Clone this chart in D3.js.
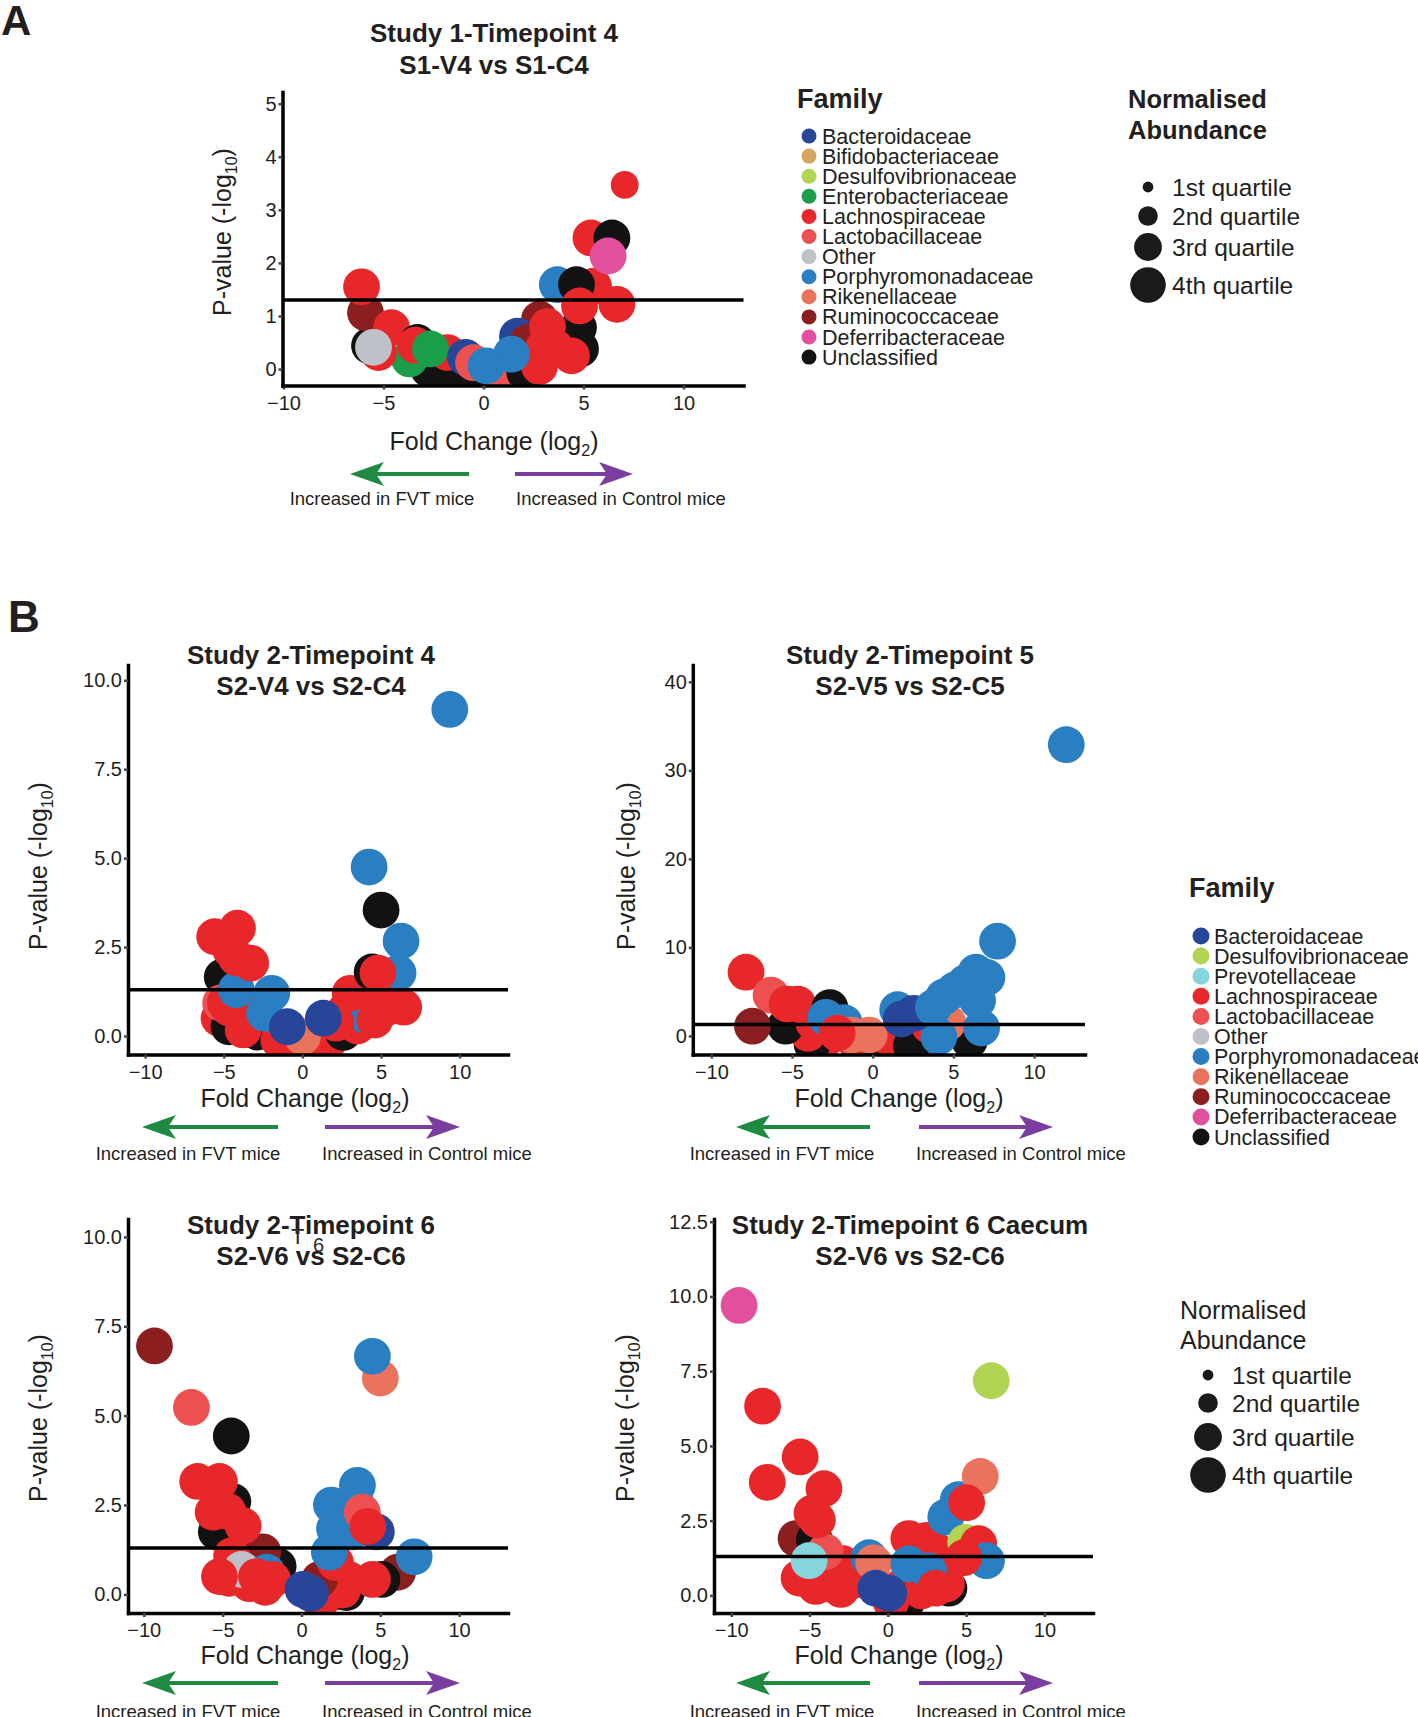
<!DOCTYPE html>
<html>
<head>
<meta charset="utf-8">
<script src="https://cdn.jsdelivr.net/npm/d3@7"></script>
<style>
  body { margin: 0; background: #fff; }
  svg { display: block; font-family: "Liberation Sans", Arial, sans-serif; }
</style>
</head>
<body>
<div id="fig"></div>
<script>
// families: code, name, colour (parallel arrays)
const familyCodes = ["Bac", "Bif", "Des", "Ent", "Lac", "Lct", "Oth", "Por", "Rik", "Rum", "Def", "Pre", "Unc"];
const familyNames = ["Bacteroidaceae", "Bifidobacteriaceae", "Desulfovibrionaceae", "Enterobacteriaceae",
  "Lachnospiraceae", "Lactobacillaceae", "Other", "Porphyromonadaceae", "Rikenellaceae",
  "Ruminococcaceae", "Deferribacteraceae", "Prevotellaceae", "Unclassified"];
const familyColors = ["#27469a", "#d7a55e", "#b2d453", "#1a9e4a", "#e8272a", "#ed5050", "#bec1c8",
  "#2a7fc2", "#ea735e", "#8b1f1f", "#e2509d", "#86d4dc", "#121212"];

const legendAFamilies = ["Bac", "Bif", "Des", "Ent", "Lac", "Lct", "Oth", "Por", "Rik", "Rum", "Def", "Unc"];
const legendBFamilies = ["Bac", "Des", "Pre", "Lac", "Lct", "Oth", "Por", "Rik", "Rum", "Def", "Unc"];
const quartileLabels = ["1st quartile", "2nd quartile", "3rd quartile", "4th quartile"];

const xTicks = [-10, -5, 0, 5, 10];
const pCutoff = 1.3; // -log10(0.05)

// Study 1 - Timepoint 4
const s1t4Fc = [3.9, 2.5, -0.5, -2.75, -1.8, -3.7, -5.7, -5.25, -5.9, -6.1, -4.6, -3.3, -3.4, -5.5, -1.8, -2.65, -0.9, -0.5, 0.7,
  2.06, 2.8, 1.7, 2.2, 4.85, 4.75, 3.0, 3.2, 3.6, 2.8, 4.4, 1.4, 0.13, 3.69, 5.5, 4.65, 4.8, 6.67, 5.37, 6.42, 6.23, 7.06];
const s1t4P = [0.55, 0.25, -0.05, 0.0, -0.06, 0.19, 0.44, 0.31, 1.06, 1.55, 0.78, 0.5, 0.45, 0.41, 0.31, 0.38, 0.22, 0.12, -0.05,
  -0.06, 0.94, 0.62, 0.5, 0.38, 0.78, 0.4, 0.8, 0.4, 0.05, 0.25, 0.28, 0.06, 1.59, 1.56, 1.59, 1.19, 1.22, 2.47, 2.47, 2.13, 3.47];
const s1t4Fam = ["Lac", "Lac", "Unc", "Unc", "Unc", "Ent", "Unc", "Lac", "Rum", "Lac", "Lac", "Unc", "Lac", "Oth", "Lac", "Ent", "Bac", "Lct", "Lct",
  "Unc", "Rum", "Bac", "Rum", "Unc", "Unc", "Lac", "Lac", "Lac", "Lac", "Lac", "Por", "Por", "Por", "Lac", "Unc", "Lac", "Lac", "Lac", "Unc", "Def", "Lac"];
const s1t4Q = [4, 4, 4, 4, 4, 4, 4, 4, 4, 4, 4, 4, 4, 4, 4, 4, 4, 4, 4,
  4, 4, 4, 4, 4, 4, 4, 4, 4, 4, 4, 4, 4, 4, 4, 4, 4, 4, 4, 4, 4, 3];
const s1t4YTicks = [0, 1, 2, 3, 4, 5];

// Study 2 - Timepoint 4
const s2t4Fc = [3.5, 5.4, 4.2, 2.7, -5.3, -4.2, 1.6, -0.95,
  -2.86, -1.95, -1.5, -4.67, -3.77, 0.77, 2.6, 3.49, -5.1, -5.2, -4.9, -4.67, -3.31, -4.2, -1.95, -2.4, -5.58, -4.56,
  -4.13, -4.2, -3.29, 3.95, 2.13, 3.04, 4.6, 4.85, 6.44, 6.08, 4.43, 4.8, 6.27, 5.0, 4.24, 9.37, 0.0, -0.96, 1.33];
const s2t4P = [1.0, 0.8, 1.2, 0.7, 0.5, 0.9, -0.2, -0.3,
  0.11, 0.18, -0.12, 0.26, 0.17, -0.12, 0.1, 0.28, 1.66, 0.93, 0.93, 0.79, 0.69, 1.3, 1.2, 0.64, 2.79, 2.42,
  3.03, 2.2, 2.05, 0.6, 0.36, 1.2, 0.45, 1.09, 0.81, 1.77, 1.8, 1.77, 2.67, 3.54, 4.75, 9.18, -0.02, 0.26, 0.5];
const s2t4Fam = ["Lac", "Lac", "Lac", "Lac", "Lac", "Lac", "Lac", "Lac",
  "Unc", "Unc", "Lac", "Unc", "Lac", "Lac", "Unc", "Lac", "Unc", "Lct", "Lac", "Lac", "Lac", "Por", "Por", "Por", "Lac", "Lac",
  "Lac", "Lac", "Lac", "Por", "Lac", "Lac", "Lac", "Lac", "Lac", "Por", "Unc", "Lac", "Por", "Unc", "Por", "Por", "Rik", "Bac", "Bac"];
const s2t4Q = s2t4Fc.map(() => 4);
const s2t4YTicks = [0, 2.5, 5, 7.5, 10];

// Study 2 - Timepoint 5
const s2t5Fc = [-3.0, -1.0, 0.5, 1.2, 3.0,
  -3.76, -4.0, -5.4, 2.4, 6.0, -7.85, -6.3, -5.3, -4.65, -3.65, -2.65, -2.9, -1.77, -7.45, -1.33, -0.22, -2.2,
  3.5, 4.65, 4.1, 1.55, 1.77, 2.55, 3.76, 4.4, 5.1, 5.75, 6.4, 7.08, 6.5, 6.75, 7.74, 12.0];
const s2t5P = [-0.5, -0.8, -1.2, -0.5, -0.8,
  -0.9, 0.3, 1.1, -1.1, -0.5, 7.2, 4.6, 3.6, 3.6, 1.5, 3.2, 2.1, 1.5, 1.1, 0.1, 0.1, 0.3,
  1.2, 1.5, -0.1, 2.96, 1.9, 2.55, 3.2, 4.4, 5.2, 6.0, 7.2, 6.6, 4.0, 0.9, 10.7, 32.9];
const s2t5Fam = ["Lac", "Lac", "Unc", "Lac", "Lac",
  "Unc", "Lac", "Unc", "Unc", "Unc", "Lac", "Lct", "Lac", "Lac", "Lac", "Unc", "Por", "Por", "Rum", "Rik", "Rik", "Lac",
  "Lac", "Rik", "Por", "Por", "Bac", "Bac", "Por", "Por", "Por", "Por", "Por", "Por", "Por", "Por", "Por", "Por"];
const s2t5Q = s2t5Fc.map(() => 4);
const s2t5YTicks = [0, 10, 20, 30, 40];

// Study 2 - Timepoint 6
const s2t6Fc = [-4.6, -3.3, -2.3, 3.0, 2.0,
  2.85, 1.2, 2.6, -1.48, -2.45, -5.4, -4.35, -6.58, -5.2, -5.6, -4.66, -3.7, -4.43, -3.8, -5.2, -2.2, -2.85, -1.83,
  1.14, 2.16, 6.1, 5.1, 4.5, 1.77, 1.9, 3.55, 3.5, 2.1, 3.2, 4.75, 3.86, 4.2, 7.15, -9.32, -6.98, -4.45, 5.0, 4.5, 0.1, 0.57];
const s2t6P = [0.45, 0.3, 0.2, 0.42, 0.05,
  0.05, -0.2, 0.12, 0.79, 1.19, 1.75, 2.6, 3.16, 3.16, 2.3, 2.32, 1.92, 1.08, 0.7, 0.5, 0.62, 0.5, 0.42,
  0.42, 0.89, 0.62, 0.42, 0.42, 1.18, 2.5, 3.05, 2.5, 1.84, 1.75, 1.75, 2.3, 1.9, 1.05, 6.95, 5.23, 4.43, 6.05, 6.66, 0.14, 0.03];
const s2t6Fam = ["Lac", "Lac", "Lac", "Lac", "Lac",
  "Unc", "Lac", "Lac", "Unc", "Rum", "Unc", "Unc", "Lac", "Lac", "Lac", "Lac", "Lac", "Lac", "Oth", "Lac", "Por", "Lac", "Lac",
  "Rum", "Lac", "Rum", "Unc", "Lac", "Por", "Por", "Por", "Por", "Por", "Por", "Bac", "Lct", "Lac", "Por", "Rum", "Lct", "Unc", "Rik", "Por", "Bac", "Bac"];
const s2t6Q = s2t6Fc.map(() => 4);
const s2t6YTicks = [0, 2.5, 5, 7.5, 10];

// Study 2 - Timepoint 6 Caecum
const s2t6cFc = [-2.2, -3.0, 0.9, -4.6, 3.3,
  1.23, 0.2, 3.9, 3.74, 2.14, -5.67, -3.57, -2.87, -5.86, -4.69, -4.0, -5.03, -1.2, -0.9, 1.34, 2.5, 3.05, 1.34, 2.6,
  3.7, 4.5, 5.9, 5.03, 4.97, 5.8, 6.3, 4.85, 3.05, -0.77, 0.06, -4.5, -4.84, -4.08, -7.7, -5.6, -8.0, 6.6, -9.5];
const s2t6cP = [0.5, 0.2, 0.3, 0.3, 0.9,
  -0.19, -0.2, 0.24, 0.38, 0.15, 0.58, 0.37, 1.06, 1.9, 1.86, 1.46, 1.16, 1.26, 1.09, 1.9, 1.84, 1.51, 1.05, 0.82,
  2.62, 3.2, 3.98, 3.1, 1.77, 1.73, 1.16, 1.26, 0.24, 0.24, 0.07, 2.52, 2.75, 3.57, 3.78, 4.63, 6.33, 7.18, 9.7];
const s2t6cFam = ["Lac", "Lac", "Lac", "Lac", "Lac",
  "Unc", "Lac", "Unc", "Lac", "Lac", "Lac", "Lac", "Lac", "Rum", "Unc", "Lct", "Pre", "Por", "Rik", "Lac", "Lac", "Lac", "Por", "Por",
  "Por", "Por", "Rik", "Lac", "Des", "Lac", "Por", "Lac", "Lac", "Bac", "Bac", "Lac", "Lac", "Lac", "Lac", "Lac", "Lac", "Des", "Def"];
const s2t6cQ = s2t6cFc.map(() => 4);
const s2t6cYTicks = [0, 2.5, 5, 7.5, 10, 12.5];

const ink = "#231f20";
const color = d3.scaleOrdinal().domain(familyCodes).range(familyColors);
const famName = d3.scaleOrdinal().domain(familyCodes).range(familyNames);
const size = d3.scaleOrdinal().domain([1, 2, 3, 4]).range([5.4, 9.8, 13.9, 18.4]);

const svg = d3.select("#fig").append("svg")
  .attr("width", 1418).attr("height", 1717);
svg.append("rect").attr("width", 1418).attr("height", 1717).attr("fill", "#fff");

function volcano(id, p) {
  const g = svg.append("g");
  const x = d3.scaleLinear().domain(p.xDom).range([p.left, p.right]);
  const y = d3.scaleLinear().domain(p.yDom).range([p.bottom, p.top]);
  const data = p.fc.map((f, i) => ({ fc: f, p: p.pv[i], fam: p.fam[i], q: p.q[i] }));

  g.append("clipPath").attr("id", "clip-" + id)
    .append("rect")
    .attr("x", p.left).attr("y", p.top - 40)
    .attr("width", p.right - p.left).attr("height", p.bottom - p.top + 40);

  // points
  g.append("g")
    .attr("clip-path", `url(#clip-${id})`)
    .selectAll("circle")
    .data(data)
    .join("circle")
    .attr("cx", (d) => x(d.fc))
    .attr("cy", (d) => y(d.p))
    .attr("r", (d) => size(d.q))
    .attr("fill", (d) => color(d.fam));

  // significance line
  g.append("line")
    .attr("x1", p.left).attr("x2", p.right)
    .attr("y1", y(pCutoff)).attr("y2", y(pCutoff))
    .attr("stroke", "#000").attr("stroke-width", 3.5);

  const xAxis = g.append("g")
    .attr("transform", `translate(0, ${p.bottom})`)
    .call(d3.axisBottom(x).tickValues(xTicks).tickSize(4).tickSizeOuter(0).tickPadding(6));
  const yAxis = g.append("g")
    .attr("transform", `translate(${p.left}, 0)`)
    .call(d3.axisLeft(y).tickValues(p.yTicks).tickFormat(p.fmt).tickSize(4).tickSizeOuter(0).tickPadding(2));
  [xAxis, yAxis].forEach((a) => {
    a.select(".domain").attr("stroke", "#000").attr("stroke-width", 3.5).attr("stroke-linecap", "square");
    a.selectAll(".tick line").attr("stroke", "#444").attr("stroke-width", 2.5);
    a.selectAll(".tick text").attr("fill", ink).style("font-size", "20px")
      .style("font-family", '"Liberation Sans", Arial, sans-serif');
  });

  // title
  p.title.forEach((t, i) => {
    g.append("text")
      .attr("x", p.titleX).attr("y", p.titleY[i]).attr("dy", "0.35em")
      .attr("text-anchor", "middle")
      .style("font-size", "26px").style("font-weight", "bold")
      .attr("fill", ink)
      .text(t);
  });

  axisTitle(g, p.yLab[0], p.yLab[1], "P-value (-log", "10", -90);
  axisTitle(g, p.xLab[0], p.xLab[1], "Fold Change (log", "2", 0);

  arrow(g, p.green[0], p.green[1], p.arrowY, "#1f8b42");
  arrow(g, p.purple[0], p.purple[1], p.arrowY, "#7a3ea0");
  g.append("text").attr("x", p.noteX[0]).attr("y", p.noteY).attr("dy", "0.35em")
    .attr("text-anchor", "middle").style("font-size", "18.5px").attr("fill", ink)
    .text("Increased in FVT mice");
  g.append("text").attr("x", p.noteX[1]).attr("y", p.noteY).attr("dy", "0.35em")
    .attr("text-anchor", "middle").style("font-size", "18.5px").attr("fill", ink)
    .text("Increased in Control mice");
  return g;
}

function axisTitle(g, cx, cy, base, sub, rot) {
  const t = g.append("text")
    .attr("transform", `translate(${cx}, ${cy}) rotate(${rot})`)
    .attr("y", 9)
    .attr("text-anchor", "middle")
    .style("font-size", "25px")
    .attr("fill", ink);
  t.append("tspan").text(base);
  t.append("tspan").attr("dy", 6).style("font-size", "16px").text(sub);
  t.append("tspan").attr("dy", -6).text(")");
}

function arrow(g, x0, x1, yy, col) {
  const dir = x1 > x0 ? 1 : -1;
  const len = 34, half = 12, notch = 8;
  g.append("line")
    .attr("x1", x0).attr("x2", x1 - dir * (len - notch))
    .attr("y1", yy).attr("y2", yy)
    .attr("stroke", col).attr("stroke-width", 4);
  g.append("path")
    .attr("d", `M${x1},${yy} L${x1 - dir * len},${yy - half} L${x1 - dir * (len - notch)},${yy} L${x1 - dir * len},${yy + half} Z`)
    .attr("fill", col);
}

function familyLegend(x0, y0, gap, codes, r) {
  const g = svg.append("g");
  g.append("text").attr("x", x0).attr("y", y0).attr("dy", "0.35em")
    .style("font-size", "27px").style("font-weight", "bold").attr("fill", ink).text("Family");
  codes.forEach((c, i) => {
    const yy = y0 + gap + i * 20.1;
    g.append("circle").attr("cx", x0 + 12).attr("cy", yy).attr("r", r).attr("fill", color(c));
    g.append("text").attr("x", x0 + 25).attr("y", yy).attr("dy", "0.35em")
      .style("font-size", "21.5px").attr("fill", ink).text(famName(c));
  });
}

function sizeLegend(x0, headY, bold, cx, cys, tx) {
  const g = svg.append("g");
  ["Normalised", "Abundance"].forEach((t, i) => {
    g.append("text").attr("x", x0).attr("y", headY[i]).attr("dy", "0.35em")
      .style("font-size", bold ? "25.5px" : "25px").style("font-weight", bold ? "bold" : "normal")
      .attr("fill", ink).text(t);
  });
  quartileLabels.forEach((t, i) => {
    g.append("circle").attr("cx", cx).attr("cy", cys[i]).attr("r", Math.min(size(i + 1), 17.8)).attr("fill", "#1a1a1a");
    g.append("text").attr("x", tx).attr("y", cys[i]).attr("dy", "0.35em")
      .style("font-size", "24.5px").attr("fill", ink).text(t);
  });
}

const fmt1 = d3.format(".1f");

volcano("a", {
  fc: s1t4Fc, pv: s1t4P, fam: s1t4Fam, q: s1t4Q,
  xDom: [-10.05, 13], yDom: [-0.31, 5.22], yTicks: s1t4YTicks, fmt: d3.format("d"),
  left: 282.5, right: 743.5, top: 92, bottom: 385.5,
  title: ["Study 1-Timepoint 4", "S1-V4 vs S1-C4"], titleX: 494, titleY: [33, 65],
  yLab: [222, 232], xLab: [494, 441],
  arrowY: 474, green: [469, 350], purple: [515, 633], noteX: [382, 621], noteY: 499
});

volcano("b1", {
  fc: s2t4Fc, pv: s2t4P, fam: s2t4Fam, q: s2t4Q,
  xDom: [-11.09, 13.07], yDom: [-0.52, 10.43], yTicks: s2t4YTicks, fmt: fmt1,
  left: 128, right: 508, top: 665, bottom: 1054.5,
  title: ["Study 2-Timepoint 4", "S2-V4 vs S2-C4"], titleX: 311, titleY: [655, 685.5],
  yLab: [38, 866], xLab: [305, 1098],
  arrowY: 1127, green: [278, 142], purple: [325, 460], noteX: [188, 427], noteY: 1154
});

volcano("b2", {
  fc: s2t5Fc, pv: s2t5P, fam: s2t5Fam, q: s2t5Q,
  xDom: [-11.15, 13.16], yDom: [-2.1, 41.9], yTicks: s2t5YTicks, fmt: d3.format("d"),
  left: 692.8, right: 1085, top: 665, bottom: 1054.5,
  title: ["Study 2-Timepoint 5", "S2-V5 vs S2-C5"], titleX: 910, titleY: [655, 685.5],
  yLab: [626, 866], xLab: [899, 1098],
  arrowY: 1127, green: [870, 736], purple: [919, 1053], noteX: [782, 1021], noteY: 1154
});

volcano("b3", {
  fc: s2t6Fc, pv: s2t6P, fam: s2t6Fam, q: s2t6Q,
  xDom: [-11.0, 13.1], yDom: [-0.52, 10.5], yTicks: s2t6YTicks, fmt: fmt1,
  left: 128, right: 508, top: 1219, bottom: 1613,
  title: ["Study 2-Timepoint 6", "S2-V6 vs S2-C6"], titleX: 311, titleY: [1225, 1256],
  yLab: [38, 1418], xLab: [305, 1655],
  arrowY: 1683, green: [278, 142], purple: [325, 460], noteX: [188, 427], noteY: 1712
});

volcano("b4", {
  fc: s2t6cFc, pv: s2t6cP, fam: s2t6cFam, q: s2t6cQ,
  xDom: [-11.1, 13.1], yDom: [-0.59, 12.59], yTicks: s2t6cYTicks, fmt: fmt1,
  left: 714, right: 1093, top: 1219, bottom: 1613,
  title: ["Study 2-Timepoint 6 Caecum", "S2-V6 vs S2-C6"], titleX: 910, titleY: [1225, 1256],
  yLab: [625, 1418], xLab: [899, 1655],
  arrowY: 1683, green: [870, 736], purple: [919, 1053], noteX: [782, 1021], noteY: 1712
});

// stray "T6" label sitting over the timepoint 6 title
svg.append("text").attr("x", 291).attr("y", 1244)
  .style("font-size", "22px").attr("fill", "#2a2a2a").text("T");
svg.append("text").attr("x", 313).attr("y", 1252)
  .style("font-size", "20px").attr("fill", "#2a2a2a").text("6");

// legends
familyLegend(797, 99, 37, legendAFamilies, 7.5);
sizeLegend(1128, [99, 130], true, 1148, [187, 216, 247, 285], 1172);
familyLegend(1189, 888, 48, legendBFamilies, 8.5);
sizeLegend(1180, [1310, 1340], false, 1208, [1375, 1403, 1437, 1475], 1232);

// panel letters
svg.append("text").attr("x", 1).attr("y", 35)
  .style("font-size", "42px").style("font-weight", "bold").attr("fill", ink).text("A");
svg.append("text").attr("x", 8).attr("y", 632)
  .style("font-size", "44px").style("font-weight", "bold").attr("fill", ink).text("B");
</script>
</body>
</html>
